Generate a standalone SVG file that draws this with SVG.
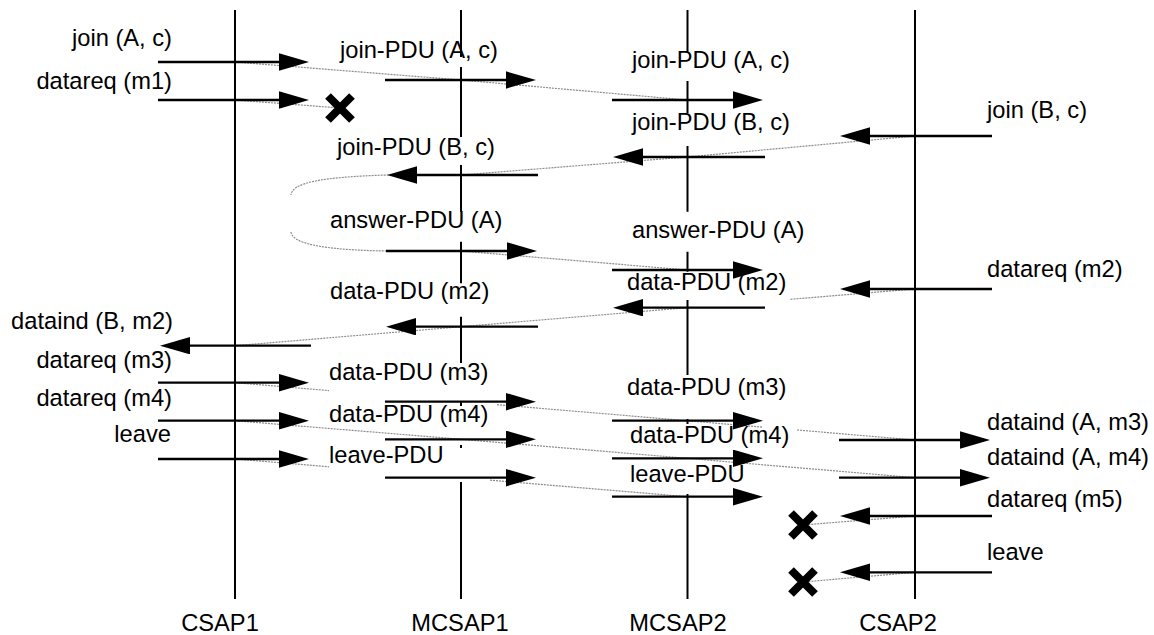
<svg xmlns="http://www.w3.org/2000/svg" width="1154" height="635" viewBox="0 0 1154 635">
  <defs>
    <style>
      text { font-family: "Liberation Sans", Arial, sans-serif; font-size: 23.7px; fill: #000; }
      .end { text-anchor: end; }
      .mid { text-anchor: middle; }
      .life { stroke: #000; stroke-width: 2; fill: none; }
      .msg { stroke: #000; stroke-width: 2.3; fill: none; marker-end: url(#ah); }
      .trace { stroke: #8c8c8c; stroke-width: 1.2; stroke-dasharray: 2 1; fill: none; }
      .lost { stroke: #000; stroke-width: 8; fill: none; }
    </style>
    <marker id="ah" markerUnits="userSpaceOnUse" markerWidth="30" markerHeight="18" refX="20" refY="8.7" orient="auto">
      <path d="M0,0 L30,8.7 L0,17.4 z" fill="#000"/>
    </marker>
    <path id="cross" class="lost" d="M-12,-12 L12,12 M12,-12 L-12,12"/>
  </defs>
  <rect width="1154" height="635" fill="#fff"/>

  <!-- lifelines -->
  <g id="csap1">
    <path class="life" d="M235,10 V599"/>
    <text class="mid" x="220" y="631">CSAP1</text>
  </g>
  <g id="mcsap1">
    <path class="life" d="M461,10 V57 M461,67 V137 M461,165 V211.7 M461,241.7 V283.3 M461,316.7 V363 M461,402 V406 M461,445 V448 M461,482 V599"/>
    <text class="mid" x="460" y="631">MCSAP1</text>
  </g>
  <g id="mcsap2">
    <path class="life" d="M687.5,10 V51.7 M687.5,81 V113 M687.5,146 V211.7 M687.5,251.7 V271.7 M687.5,300 V375 M687.5,419 V424 M687.5,494 V599"/>
    <text class="mid" x="678" y="631">MCSAP2</text>
  </g>
  <g id="csap2">
    <path class="life" d="M915,10 V599"/>
    <text class="mid" x="898" y="631">CSAP2</text>
  </g>

  <g id="connectors">
    <!-- message traces -->
    <g id="traces">
      <path class="trace" d="M235,62 L461,80 L687,100"/>
      <path class="trace" d="M235,100 L340,108"/>
      <path class="trace" d="M915,136 L687,157 L461,175 L387,175 C320,177 292,183 291,195"/>
      <path class="trace" d="M291,232 C292,243 320,250 387,251 L461,251 L687,270"/>
      <path class="trace" d="M915,289 L790,299.3"/>
      <path class="trace" d="M687,307.7 L461,326.7 L235,345.7"/>
      <path class="trace" d="M235,382.7 L329,390.6"/>
      <path class="trace" d="M497,404.7 L687,420.7 L763,427.2"/>
      <path class="trace" d="M797,430 L915,440"/>
      <path class="trace" d="M235,420.7 L461,439.3 L687,458.3 L915,477.7"/>
      <path class="trace" d="M235,459 L329,466.8"/>
      <path class="trace" d="M490,480.2 L687,496.7"/>
      <path class="trace" d="M915,516 L803,525"/>
      <path class="trace" d="M915,572.3 L803,582"/>
    </g>
    <!-- CSAP1 primitives -->
    <line class="msg" x1="158" y1="62" x2="299" y2="62"/>
    <line class="msg" x1="158" y1="100" x2="299" y2="100"/>
    <line class="msg" x1="311" y1="345.7" x2="170" y2="345.7"/>
    <line class="msg" x1="158" y1="382.7" x2="299" y2="382.7"/>
    <line class="msg" x1="158" y1="420.7" x2="299" y2="420.7"/>
    <line class="msg" x1="158" y1="459" x2="299" y2="459"/>
    <!-- MCSAP1 PDUs -->
    <line class="msg" x1="385" y1="80" x2="526" y2="80"/>
    <line class="msg" x1="538" y1="175" x2="397" y2="175"/>
    <line class="msg" x1="386" y1="251" x2="527" y2="251"/>
    <line class="msg" x1="538" y1="326.7" x2="396" y2="326.7"/>
    <line class="msg" x1="385" y1="401.7" x2="526" y2="401.7"/>
    <line class="msg" x1="385" y1="439.3" x2="526" y2="439.3"/>
    <line class="msg" x1="385" y1="477.7" x2="526" y2="477.7"/>
    <!-- MCSAP2 PDUs -->
    <line class="msg" x1="612" y1="100" x2="753" y2="100"/>
    <line class="msg" x1="765" y1="157" x2="623" y2="157"/>
    <line class="msg" x1="612" y1="270" x2="753" y2="270"/>
    <line class="msg" x1="765" y1="307.7" x2="623" y2="307.7"/>
    <line class="msg" x1="612" y1="420.7" x2="753" y2="420.7"/>
    <line class="msg" x1="612" y1="458.3" x2="753" y2="458.3"/>
    <line class="msg" x1="612" y1="496.7" x2="753" y2="496.7"/>
    <!-- CSAP2 primitives -->
    <line class="msg" x1="992" y1="136" x2="850" y2="136"/>
    <line class="msg" x1="992" y1="289" x2="850" y2="289"/>
    <line class="msg" x1="839" y1="440" x2="980" y2="440"/>
    <line class="msg" x1="839" y1="477.7" x2="980" y2="477.7"/>
    <line class="msg" x1="992" y1="516" x2="850" y2="516"/>
    <line class="msg" x1="992" y1="572.3" x2="850" y2="572.3"/>
  </g>

  <!-- discarded messages -->
  <g id="losses">
    <use href="#cross" x="340" y="108"/>
    <use href="#cross" x="803" y="525"/>
    <use href="#cross" x="803" y="582"/>
  </g>

  <g id="labels">
    <text class="end" x="172" y="46">join (A, c)</text>
    <text class="end" x="172" y="89">datareq (m1)</text>
    <text class="end" x="173" y="329">dataind (B, m2)</text>
    <text class="end" x="172" y="368">datareq (m3)</text>
    <text class="end" x="172" y="406">datareq (m4)</text>
    <text class="end" x="171" y="442">leave</text>

    <text x="340" y="58">join-PDU (A, c)</text>
    <text x="337" y="155">join-PDU (B, c)</text>
    <text x="330" y="228">answer-PDU (A)</text>
    <text x="330" y="299">data-PDU (m2)</text>
    <text x="329" y="380">data-PDU (m3)</text>
    <text x="329" y="422">data-PDU (m4)</text>
    <text x="329" y="463">leave-PDU</text>

    <text x="632" y="68">join-PDU (A, c)</text>
    <text x="632" y="130">join-PDU (B, c)</text>
    <text x="632" y="238">answer-PDU (A)</text>
    <text x="627" y="290">data-PDU (m2)</text>
    <text x="627" y="395">data-PDU (m3)</text>
    <text x="630" y="443">data-PDU (m4)</text>
    <text x="630" y="482">leave-PDU</text>

    <text x="987" y="118">join (B, c)</text>
    <text x="987" y="277">datareq (m2)</text>
    <text x="987" y="430">dataind (A, m3)</text>
    <text x="987" y="465">dataind (A, m4)</text>
    <text x="987" y="507">datareq (m5)</text>
    <text x="987" y="560">leave</text>
  </g>
</svg>
